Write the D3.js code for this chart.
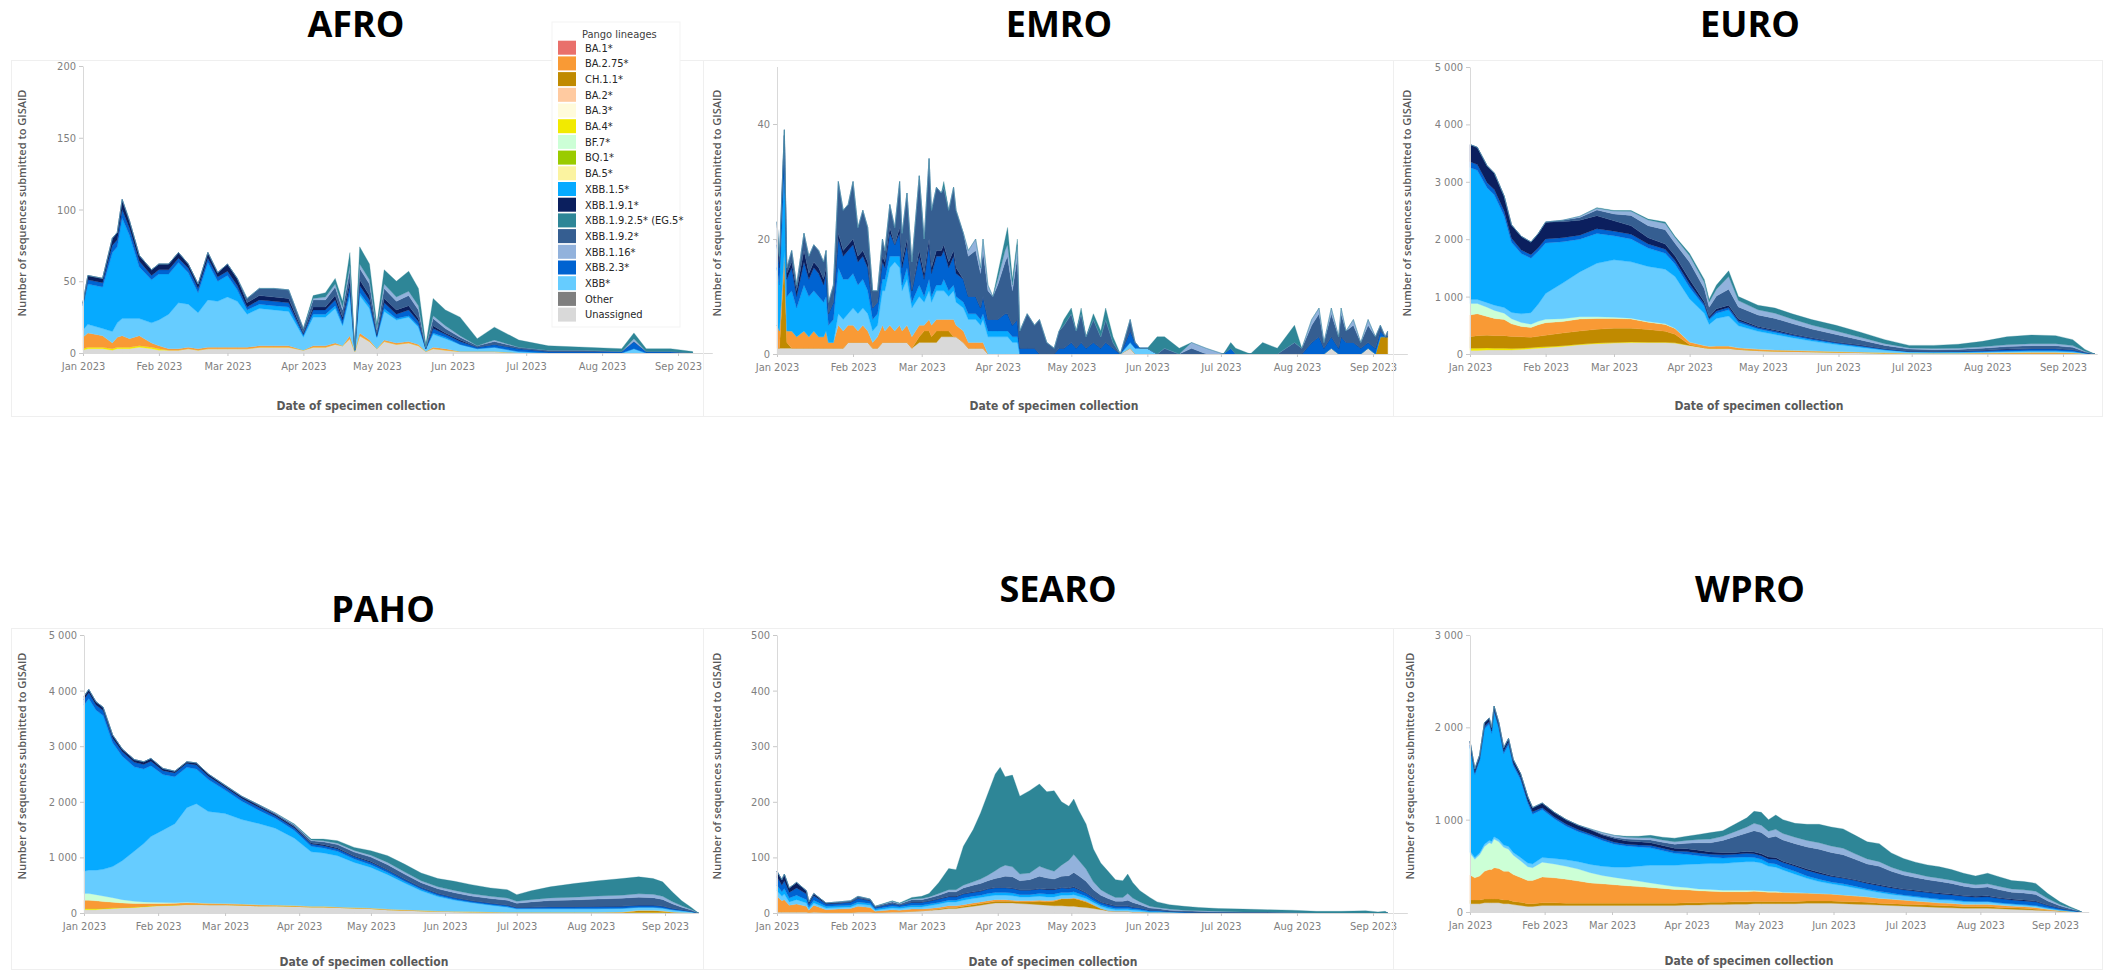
<!DOCTYPE html>
<html>
<head>
<meta charset="utf-8">
<script src="https://cdn.jsdelivr.net/npm/d3@7"></script>
<style>
  body { margin: 0; background: #fff; }
  .tick text { fill: #7f7f7f; font-family: "Liberation Sans Narrow", "DejaVu Sans Condensed", Roboto, sans-serif; font-size: 11px; }
  .tick line { stroke: #c8c8c8; }
  .domain { stroke: #d9d9d9; }
</style>
</head>
<body>
<svg id="chart" width="2103" height="970"></svg>
<script>
// lineages in legend order + their colours
const lineages = ["BA.1*", "BA.2.75*", "CH.1.1*", "BA.2*", "BA.3*", "BA.4*", "BF.7*", "BQ.1*", "BA.5*",
  "XBB.1.5*", "XBB.1.9.1*", "XBB.1.9.2.5*", "XBB.1.9.2*", "XBB.1.16*", "XBB.2.3*", "XBB*", "Other", "Unassigned"];
const lineageColors = ["#e9706b", "#f99a35", "#c08a00", "#ffcaa0", "#fffbdb", "#f2ea00", "#ccffd6", "#9acb00", "#fbf3a0",
  "#06aaff", "#0b1f5e", "#2e8697", "#355e91", "#92b2dc", "#0063d1", "#66ccff", "#7f7f7f", "#d9d9d9"];
const legendLabels = ["BA.1*", "BA.2.75*", "CH.1.1*", "BA.2*", "BA.3*", "BA.4*", "BF.7*", "BQ.1*", "BA.5*",
  "XBB.1.5*", "XBB.1.9.1*", "XBB.1.9.2.5* (EG.5*", "XBB.1.9.2*", "XBB.1.16*", "XBB.2.3*", "XBB*", "Other", "Unassigned"];
// bottom -> top
const stackOrder = ["Unassigned", "Other", "BA.5*", "BA.4*", "BA.1*", "BA.2*", "BA.3*", "BQ.1*", "CH.1.1*", "BA.2.75*", "BF.7*",
  "XBB*", "XBB.1.5*", "XBB.2.3*", "XBB.1.9.1*", "XBB.1.9.2*", "XBB.1.16*", "XBB.1.9.2.5*"];

const monthTicks = ["2023-01-01", "2023-02-01", "2023-03-01", "2023-04-01", "2023-05-01", "2023-06-01", "2023-07-01", "2023-08-01", "2023-09-01"];

// rows: [day of 2023 (0 = 1 Jan), values per column...]
const afroCols = ["Unassigned", "BA.2.75*", "BA.4*", "XBB*", "XBB.1.5*", "XBB.2.3*", "XBB.1.9.1*", "XBB.1.9.2*", "XBB.1.16*", "XBB.1.9.2.5*"];
const afroRows = [
  [0, 2,8,1,5,17,1,1,0,0,0], [2, 3,10,1,6,28,3,3,0,0,0], [8, 3,8,1,5,29,3,3,0,0,0], [12, 2,4,1,8,55,5,5,0,0,0],
  [14, 3,7,1,10,53,5,5,0,0,0], [16, 3,8,1,12,70,6,7,0,0,0], [19, 3,6,1,14,58,5,5,0,0,0], [23, 4,7,1,12,36,4,4,0,0,0],
  [28, 3,3,1,14,30,3,4,0,0,0], [31, 2,2,1,18,32,3,4,0,0,0], [35, 2,1,0,24,28,3,4,0,0,0], [39, 2,1,0,32,28,3,4,0,0,0],
  [43, 3,1,0,30,22,3,3,0,0,0], [47, 2,1,0,25,14,3,3,0,0,0], [51, 3,1,0,33,26,3,4,0,0,0], [55, 3,1,0,32,14,3,3,0,0,0],
  [59, 3,1,0,35,15,3,5,0,0,0], [63, 3,1,0,32,8,3,5,0,0,0], [67, 3,1,0,23,3,2,3,3,0,0], [72, 4,1,0,26,3,3,3,5,0,0],
  [78, 4,1,0,25,3,3,3,6,0,0], [84, 4,1,0,24,3,3,3,6,0,0], [90, 2,0,0,9,1,1,1,3,0,0], [94, 4,1,0,20,2,3,2,5,1,2],
  [99, 4,1,0,20,2,3,2,5,2,3], [103, 6,1,0,24,2,4,3,6,2,4], [106, 5,0,0,14,1,3,2,5,2,4], [109, 10,2,0,28,2,5,4,7,3,9],
  [111, 1,0,0,1,0,0,0,0,0,0], [113, 12,2,0,26,2,5,4,8,3,12], [117, 8,1,0,22,2,4,3,8,3,11], [120, 3,0,0,8,0,1,1,3,1,3],
  [123, 8,1,0,20,2,4,3,7,3,10], [128, 6,1,0,16,1,3,3,6,3,11], [133, 7,1,0,17,1,4,3,7,3,14], [137, 5,1,0,12,1,3,2,6,3,12],
  [140, 1,0,0,2,0,0,0,1,0,2], [143, 3,1,0,9,1,3,2,5,2,12], [148, 2,1,0,7,1,2,1,3,2,11], [154, 1,0,0,5,0,2,1,2,1,13],
  [161, 1,0,0,2,0,1,0,1,0,5], [168, 1,0,0,3,0,2,0,2,1,9], [178, 0,0,0,1,0,2,0,1,0,5], [190, 0,0,0,0,0,1,0,1,0,3],
  [205, 0,0,0,0,0,1,0,1,0,2], [220, 0,0,0,0,0,1,0,0,0,2], [225, 0,0,0,3,0,5,0,0,2,4], [230, 0,0,0,0,0,1,0,0,0,2],
  [240, 0,0,0,0,0,1,0,0,0,2], [249, 0,0,0,0,0,0,0,0,0,1]
];

const emroCols = ["Unassigned", "BA.2.75*", "CH.1.1*", "XBB*", "XBB.1.5*", "XBB.2.3*", "XBB.1.9.1*", "XBB.1.9.2*", "XBB.1.16*", "XBB.1.9.2.5*"];
const emroRows = [
  [0, 1,4,0,0,10,4,1,3,0,0], [1, 1,3,0,0,8,3,1,1,0,0], [3, 1,2,15,0,14,6,0,1,0,0], [4, 1,2,1,0,6,3,1,1,0,0],
  [6, 1,3,0,0,7,4,1,2,0,0], [8, 1,2,0,0,5,2,1,1,0,0], [11, 1,3,0,0,8,4,2,3,0,0], [13, 1,2,0,0,7,3,1,3,0,0],
  [15, 1,3,0,0,7,4,1,3,0,0], [17, 1,2,0,0,7,4,1,3,0,0], [19, 1,2,0,0,6,3,1,3,0,0], [20, 1,3,0,0,6,4,1,3,0,0],
  [21, 1,1,0,0,3,2,0,2,0,0], [23, 1,1,0,0,4,3,0,3,0,0], [25, 1,4,0,2,8,5,1,9,0,0], [27, 1,3,0,2,7,4,1,7,0,0],
  [29, 2,3,0,2,6,5,1,7,0,0], [31, 2,3,0,3,6,5,1,10,0,0], [33, 2,2,0,3,5,4,1,5,0,0], [35, 2,3,0,3,5,4,1,7,0,0],
  [37, 2,2,0,3,4,4,1,6,0,0], [39, 1,1,0,2,2,2,0,3,0,0], [41, 1,2,0,2,2,2,0,2,0,0], [43, 2,3,0,6,2,3,1,3,0,0],
  [44, 2,2,0,7,2,2,1,2,0,0], [46, 2,3,0,10,2,4,1,4,0,0], [48, 2,2,0,12,1,2,0,3,0,0], [50, 2,3,0,10,2,4,1,8,0,0],
  [51, 2,2,0,7,1,3,1,5,0,0], [53, 2,3,0,8,2,4,1,8,0,0], [55, 1,2,0,5,1,2,0,5,0,0], [58, 2,2,1,5,2,5,1,13,0,0],
  [60, 2,1,2,4,1,3,1,6,0,0], [62, 2,2,2,5,2,6,1,14,0,0], [63, 2,2,1,4,1,4,1,10,0,0], [65, 2,2,2,5,1,5,1,11,0,0],
  [67, 3,2,1,5,1,5,1,10,0,0], [68, 3,2,1,5,2,5,1,10,0,1], [70, 3,2,1,4,1,4,1,9,0,0], [72, 3,3,0,5,1,5,1,11,0,0],
  [73, 3,2,0,4,1,4,1,10,0,0], [76, 2,2,0,4,1,4,0,8,0,0], [78, 1,1,0,4,1,3,0,7,1,0], [81, 1,1,0,4,1,3,0,8,2,0],
  [83, 1,1,0,3,1,2,0,6,1,0], [84, 1,1,0,4,1,3,0,8,2,0], [86, 0,0,0,3,1,2,0,5,1,0], [88, 0,0,0,3,1,2,0,4,0,0],
  [90, 0,0,0,3,1,2,0,6,1,1], [93, 0,0,0,3,1,3,0,9,2,2], [94, 0,0,0,3,1,3,0,10,2,3], [96, 0,0,0,2,1,2,0,6,1,1],
  [98, 0,0,0,2,1,3,0,11,2,1], [99, 0,0,0,0,0,1,0,3,0,0], [102, 0,0,0,0,0,1,0,6,0,0], [105, 0,0,0,0,0,1,0,4,0,0],
  [107, 0,0,0,0,0,0,0,6,0,0], [110, 0,0,0,0,0,0,0,2,0,0], [113, 0,0,0,0,0,0,0,1,0,0], [115, 0,0,0,0,0,1,0,3,0,0],
  [117, 0,0,0,0,0,1,0,4,0,1], [120, 0,0,0,0,0,2,0,5,0,1], [122, 0,0,0,0,0,1,0,3,0,0], [124, 0,0,0,0,0,2,0,5,0,1],
  [126, 0,0,0,0,0,1,0,2,0,0], [129, 0,0,0,0,0,2,0,4,0,1], [132, 0,0,0,0,0,1,0,2,0,1], [134, 0,0,0,0,0,2,0,4,0,2],
  [137, 0,0,0,0,0,1,0,1,0,1], [140, 0,0,0,0,0,0,0,0,0,0], [144, 1,0,0,1,0,2,0,2,0,0], [146, 0,0,0,1,0,1,0,0,0,0],
  [148, 0,0,0,1,0,0,0,0,0,0], [151, 0,0,0,1,0,0,0,0,0,0], [155, 0,0,0,0,0,0,0,0,0,3], [158, 0,0,0,0,0,0,0,1,0,2],
  [164, 0,0,0,0,0,0,0,0,0,1], [169, 0,0,0,0,0,0,0,1,1,0], [175, 0,0,0,0,0,0,0,0,1,0], [182, 0,0,0,0,0,0,0,0,0,0],
  [185, 0,0,0,0,0,1,0,0,0,1], [187, 0,0,0,0,0,0,0,0,0,1], [193, 0,0,0,0,0,0,0,0,0,0], [198, 0,0,0,0,0,0,0,0,0,2],
  [204, 0,0,0,0,0,0,0,0,0,1], [211, 0,0,0,0,0,0,0,2,0,3], [214, 0,0,0,0,0,0,0,1,0,0], [218, 0,0,0,0,0,2,0,3,1,0],
  [221, 0,0,0,0,0,3,0,4,1,0], [223, 0,0,0,0,0,1,0,1,0,0], [226, 1,0,0,0,0,2,0,4,1,0], [229, 0,0,0,0,0,1,0,2,0,0],
  [230, 0,0,0,0,0,3,0,4,1,0], [232, 0,0,0,0,0,2,0,2,0,0], [235, 0,0,0,0,0,2,0,3,1,0], [238, 0,0,0,0,0,1,0,1,0,0],
  [241, 1,0,0,0,0,1,0,3,1,0], [244, 0,0,0,0,0,1,0,2,0,0], [246, 0,0,3,0,0,1,0,1,0,0], [248, 0,0,3,0,0,0,0,0,0,0],
  [249, 0,0,3,0,0,0,0,1,0,0]
];

const euroCols = ["Unassigned", "BA.4*", "CH.1.1*", "BA.2.75*", "BF.7*", "XBB*", "XBB.1.5*", "XBB.2.3*", "XBB.1.9.1*", "XBB.1.9.2*", "XBB.1.16*", "XBB.1.9.2.5*"];
const euroRows = [
  [0, 60,40,200,380,200,70,2300,100,300,0,0,0], [3, 60,40,220,380,180,70,2250,100,300,0,0,0],
  [7, 70,35,220,330,160,80,2000,90,295,0,0,0], [10, 70,30,220,300,140,90,1920,90,290,0,0,0],
  [14, 70,30,220,280,110,100,1600,80,260,0,0,0], [17, 70,25,210,220,90,110,1220,70,235,0,0,0],
  [21, 80,20,200,180,70,150,1050,60,240,0,0,0], [25, 90,20,180,170,60,200,950,60,220,0,0,0],
  [28, 100,20,190,200,60,300,920,60,250,0,0,0], [31, 110,15,200,220,60,450,880,70,290,5,0,0],
  [38, 130,15,220,200,50,620,720,70,280,25,0,0], [45, 160,10,230,210,40,780,570,70,260,50,20,0],
  [52, 180,10,240,190,30,930,520,80,230,100,30,10], [59, 190,10,250,170,20,1000,420,80,180,120,50,10],
  [66, 200,10,240,160,15,980,400,80,150,180,70,15], [73, 200,5,220,130,10,960,320,70,110,210,100,15],
  [80, 200,5,190,120,10,950,280,70,90,250,110,25], [84, 190,5,150,100,5,900,220,60,80,220,100,20],
  [90, 150,0,10,50,0,750,200,60,80,300,110,40], [96, 110,0,0,40,0,560,120,40,40,230,110,50],
  [98, 100,0,0,35,0,380,80,30,30,160,90,45], [101, 100,0,0,40,0,480,90,40,40,220,120,70],
  [106, 100,0,0,40,0,520,110,40,40,280,220,100], [110, 80,0,0,30,0,380,60,30,30,210,110,70],
  [118, 60,0,0,25,0,310,40,25,20,200,90,80], [125, 50,0,0,20,0,270,35,25,20,200,90,90],
  [132, 45,0,0,20,0,220,30,20,15,180,80,90], [140, 40,0,0,15,0,170,25,20,15,150,70,95],
  [150, 30,0,0,15,0,120,20,15,10,130,60,100], [160, 25,0,0,10,0,80,15,15,10,90,45,90],
  [170, 15,0,0,10,0,40,10,10,5,60,30,70], [180, 10,0,0,5,0,20,5,5,5,35,20,45],
  [190, 10,0,0,5,0,15,5,5,5,30,20,55], [200, 10,0,0,5,0,15,5,10,5,30,20,70],
  [210, 10,0,0,10,0,15,5,15,10,35,25,95], [220, 10,0,0,15,0,20,5,25,10,45,30,140],
  [230, 10,0,0,20,0,20,5,30,10,50,35,150], [240, 10,0,0,20,0,20,5,30,10,50,35,140],
  [247, 8,0,0,15,0,15,5,25,8,40,30,104], [252, 3,0,0,5,0,5,2,8,3,12,10,32],
  [256, 0,0,0,0,0,0,0,0,0,0,0,0]
];

const pahoCols = ["Unassigned", "BA.4*", "CH.1.1*", "BA.2.75*", "BF.7*", "XBB*", "XBB.1.5*", "XBB.2.3*", "XBB.1.9.1*", "XBB.1.9.2*", "XBB.1.16*", "XBB.1.9.2.5*"];
const pahoRows = [
  [0, 60,20,0,150,120,400,2990,100,60,0,0,0], [2, 60,20,0,150,120,420,3090,100,60,0,0,0],
  [5, 60,20,0,140,110,440,2880,90,60,0,0,0], [8, 70,15,0,120,100,480,2765,90,60,0,0,0],
  [12, 80,15,0,100,80,560,2225,80,60,0,0,0], [16, 90,10,0,80,60,700,1880,80,50,0,0,0],
  [21, 100,10,0,60,40,900,1520,80,50,0,0,0], [25, 110,10,0,50,30,1050,1340,80,50,0,0,0],
  [28, 120,10,0,40,25,1180,1275,80,50,0,0,0], [33, 130,10,0,30,20,1300,1000,70,40,0,0,0],
  [38, 140,5,0,30,10,1420,845,70,30,0,0,0], [43, 150,5,0,30,10,1700,725,70,30,0,0,0],
  [47, 150,5,0,25,5,1780,625,70,40,0,0,0], [52, 150,0,0,25,0,1650,575,60,40,0,0,0],
  [59, 150,0,0,20,0,1620,420,50,30,10,0,0], [66, 140,0,0,20,0,1520,330,50,30,10,0,0],
  [73, 130,0,0,20,0,1460,240,50,30,20,0,0], [80, 130,0,0,15,0,1380,180,40,25,20,10,0],
  [88, 120,0,0,15,0,1210,140,40,25,30,10,10], [95, 110,0,0,10,0,980,100,40,20,40,15,15],
  [100, 110,0,0,10,0,960,90,40,20,50,20,30], [106, 100,0,0,10,0,920,80,40,20,60,25,45],
  [113, 90,0,0,10,0,810,60,40,15,70,30,55], [120, 80,0,0,10,0,730,50,40,15,80,35,80],
  [127, 60,0,0,10,0,620,40,40,10,90,40,120], [134, 50,0,0,10,0,480,30,35,10,85,40,140],
  [141, 40,0,0,10,0,350,25,30,10,80,35,140], [148, 30,0,0,5,0,260,20,30,10,80,35,150],
  [155, 25,0,0,5,0,200,15,30,5,85,40,165], [162, 20,0,0,5,0,160,10,25,5,80,40,165],
  [170, 15,0,0,5,0,120,10,25,5,80,40,150], [177, 10,0,0,5,0,90,10,25,5,85,40,150],
  [181, 10,0,0,5,0,60,5,20,5,70,35,120], [187, 10,0,0,5,0,60,5,25,5,90,40,160],
  [195, 10,0,0,5,0,60,5,30,5,110,45,200], [205, 10,0,0,5,0,60,5,30,5,120,50,245],
  [215, 10,0,0,5,0,60,5,35,5,130,55,275], [225, 10,0,0,10,0,60,5,35,5,140,55,300],
  [232, 10,0,30,10,0,50,5,35,5,140,60,305], [238, 10,0,30,10,0,50,5,35,5,130,60,285],
  [242, 10,0,20,10,0,45,5,30,5,120,55,260], [246, 5,0,10,5,0,35,5,20,5,80,40,175],
  [250, 5,0,0,5,0,25,5,15,5,45,25,90], [254, 2,0,0,2,0,15,3,8,2,20,10,38],
  [257, 0,0,0,0,0,0,0,0,0,0,0,0]
];

const searoCols = ["Unassigned", "BA.2.75*", "CH.1.1*", "XBB*", "XBB.1.5*", "XBB.2.3*", "XBB.1.9.1*", "XBB.1.9.2*", "XBB.1.16*", "XBB.1.9.2.5*"];
const searoRows = [
  [0, 2,28,0,10,10,15,10,0,0,0], [2, 2,20,0,8,8,12,10,0,0,0], [3, 2,22,0,10,10,14,12,0,0,0], [5, 2,12,0,6,7,10,8,0,0,0],
  [8, 2,14,0,8,8,13,10,0,0,0], [12, 2,10,0,6,6,10,6,0,0,0], [13, 1,4,0,3,3,5,4,0,0,0], [15, 2,12,0,4,5,8,4,0,0,0],
  [20, 1,5,0,3,3,4,2,0,0,0], [25, 1,6,0,3,3,4,1,2,0,0], [30, 1,7,0,3,3,5,1,2,0,0], [33, 2,10,0,4,4,6,1,3,0,0],
  [38, 2,8,0,4,3,5,1,2,0,0], [40, 1,2,0,2,2,3,0,2,0,0], [47, 2,4,0,3,3,4,1,3,1,1], [50, 2,3,0,3,3,3,0,2,1,1],
  [55, 3,4,0,4,3,5,1,4,1,3], [59, 4,3,0,4,3,5,1,4,2,4], [62, 5,3,0,5,3,5,1,5,2,6], [66, 6,3,1,6,3,6,1,6,3,20],
  [70, 8,3,2,7,3,6,1,8,4,38], [73, 8,3,2,7,3,6,1,8,4,36], [76, 10,3,2,8,4,7,1,10,5,70], [80, 12,3,3,8,4,7,1,12,6,94],
  [83, 14,3,3,8,4,7,1,13,8,119], [86, 16,3,3,8,5,8,1,14,10,147], [89, 18,3,3,8,5,8,1,16,14,174], [91, 18,3,3,8,5,8,1,18,18,180],
  [93, 18,3,3,8,5,8,1,20,20,159], [96, 18,2,3,8,5,8,1,20,18,165], [99, 17,2,3,7,4,8,1,16,12,140], [103, 16,2,4,7,4,8,1,18,12,148],
  [107, 15,2,6,7,5,8,1,22,18,148], [110, 14,2,6,7,5,8,1,20,16,139], [113, 13,2,8,6,5,8,1,18,14,145], [116, 13,1,12,6,5,8,1,20,20,114],
  [119, 12,1,13,6,5,7,1,22,28,97], [121, 12,1,14,6,5,8,1,26,32,100], [123, 11,1,13,5,5,7,1,24,28,90], [126, 10,1,10,5,4,6,1,20,22,81],
  [129, 8,1,6,4,3,5,1,14,14,59], [132, 6,0,2,4,3,4,1,12,10,48], [135, 4,0,0,4,3,4,1,10,8,41], [138, 3,0,0,3,2,4,1,8,7,32],
  [141, 3,0,0,3,2,4,1,8,7,30], [143, 3,0,0,3,2,4,1,10,12,35], [145, 2,0,0,3,2,3,1,8,8,28], [148, 2,0,0,2,2,3,0,6,5,20],
  [152, 1,0,0,1,1,2,0,4,3,16], [155, 1,0,0,1,1,2,0,3,2,10], [160, 1,0,0,1,0,1,0,2,2,8], [166, 0,0,0,1,0,1,0,2,1,7],
  [172, 0,0,0,0,0,1,0,2,1,6], [180, 0,0,0,0,0,1,0,1,1,5], [190, 0,0,0,0,0,1,0,1,0,5], [200, 0,0,0,0,0,1,0,1,0,4],
  [210, 0,0,0,0,0,0,0,1,0,4], [220, 0,0,0,0,0,0,0,0,0,3], [230, 0,0,0,0,0,0,0,0,0,3], [240, 0,0,0,0,0,0,0,0,0,4],
  [245, 0,0,0,0,0,0,0,0,0,2], [248, 0,0,0,0,0,0,0,0,0,3], [249, 0,0,0,0,0,0,0,0,0,0]
];

const wproCols = ["Unassigned", "CH.1.1*", "BA.2.75*", "BF.7*", "XBB*", "XBB.1.5*", "XBB.2.3*", "XBB.1.9.1*", "XBB.1.9.2*", "XBB.1.16*", "XBB.1.9.2.5*"];
const wproRows = [
  [0, 90,40,270,240,20,1130,20,40,0,0,0], [2, 90,40,240,200,20,900,20,40,0,0,0], [4, 90,40,260,230,20,1000,20,40,0,0,0],
  [6, 100,40,300,270,25,1250,25,40,0,0,0], [8, 100,40,320,290,25,1260,25,40,0,0,0], [9, 100,40,320,280,25,1170,25,40,0,0,0],
  [10, 100,40,340,310,25,1350,25,40,0,0,0], [12, 100,40,330,290,25,1200,25,40,0,0,0], [14, 90,40,310,260,25,990,25,40,0,0,0],
  [16, 90,40,310,240,30,1105,25,40,0,0,0], [18, 80,35,290,210,30,940,25,40,0,0,0], [21, 70,35,270,180,35,845,25,40,0,0,0],
  [24, 60,30,250,150,40,650,25,45,0,0,0], [26, 60,30,250,140,40,540,25,45,0,0,0], [30, 70,30,280,160,50,520,20,50,0,0,0],
  [35, 70,30,270,150,60,430,20,50,0,0,0], [40, 70,25,260,140,70,365,20,50,0,0,0], [45, 70,25,240,130,80,325,20,50,0,0,0],
  [50, 70,25,220,110,90,310,20,45,5,5,0], [55, 70,25,210,90,100,280,20,40,10,15,0], [60, 70,25,200,80,110,250,20,40,15,20,0],
  [65, 70,25,190,70,130,230,20,35,20,20,10], [70, 70,25,180,60,160,210,20,35,25,20,15], [75, 70,25,170,50,190,190,25,30,30,25,25],
  [80, 70,25,160,40,210,160,25,30,35,25,30], [85, 70,25,150,30,230,130,25,30,45,25,40], [90, 75,25,140,25,250,110,30,30,60,30,45],
  [95, 75,25,130,20,270,90,30,30,80,35,55], [100, 80,25,120,20,280,70,30,25,100,40,70], [105, 80,25,115,15,290,60,35,25,130,45,60],
  [110, 85,25,110,15,300,55,35,20,170,55,80], [115, 85,25,110,15,310,50,40,20,200,65,100], [118, 90,25,110,10,310,45,40,20,230,80,130],
  [121, 90,25,105,10,300,40,40,20,230,80,140], [124, 90,25,100,10,270,35,45,20,210,70,125], [127, 90,25,100,10,260,35,50,20,230,75,155],
  [130, 90,25,95,5,240,30,50,15,230,70,150], [135, 90,25,90,5,200,30,55,15,230,70,150], [140, 95,25,85,0,160,25,60,15,240,70,175],
  [145, 95,25,80,0,130,25,60,15,250,70,200], [150, 95,25,75,0,110,20,60,10,250,70,205], [155, 90,25,70,0,100,20,60,10,245,70,210],
  [160, 85,25,65,0,85,20,60,10,220,60,200], [165, 80,25,60,0,70,15,60,10,200,55,185], [170, 75,20,55,0,60,15,60,10,200,50,195],
  [175, 70,20,50,0,50,15,55,10,170,45,155], [180, 65,20,45,0,45,10,55,10,150,40,140], [185, 60,20,40,0,40,10,55,10,140,40,125],
  [190, 55,20,35,0,35,10,55,10,130,35,125], [195, 50,20,30,0,30,10,55,10,125,35,125], [200, 45,20,30,0,30,10,50,10,115,35,115],
  [205, 40,20,25,0,25,10,50,10,100,35,105], [210, 40,20,25,0,25,5,45,10,90,35,95], [215, 40,20,25,0,25,5,50,10,95,35,115],
  [220, 35,15,25,0,20,5,45,10,85,35,105], [225, 30,15,20,0,20,5,40,10,75,35,90], [230, 25,15,20,0,15,5,40,10,75,35,90],
  [235, 20,10,20,0,15,5,40,10,70,35,85], [240, 15,5,10,0,10,5,25,5,45,25,55], [245, 8,3,5,0,5,3,15,3,25,15,28],
  [249, 5,0,3,0,3,2,10,2,12,8,15], [253, 1,0,1,0,1,1,3,0,3,2,3], [254, 0,0,0,0,0,0,0,0,0,0,0]
];

const spaceFmt = d3.formatLocale({decimal: ".", thousands: " ", grouping: [3], currency: ["", ""]}).format(",");

const panels = [
  {name: "AFRO", cols: afroCols, rows: afroRows, yMax: 200, yTicks: [0, 50, 100, 150, 200], fmt: d3.format("d"),
   box: [11, 60, 692, 356], xJan: 83, xSep: 678, y0: 353, yTop: 66, title: [356, 37], yTitle: [22, 203], xTitle: [361, 410]},
  {name: "EMRO", cols: emroCols, rows: emroRows, yMax: 50, yTicks: [0, 20, 40], fmt: d3.format("d"),
   box: [703, 60, 690, 356], xJan: 777, xSep: 1373, y0: 354, yTop: 66.5, title: [1059, 37], yTitle: [717, 203], xTitle: [1054, 410]},
  {name: "EURO", cols: euroCols, rows: euroRows, yMax: 5000, yTicks: [0, 1000, 2000, 3000, 4000, 5000], fmt: spaceFmt,
   box: [1393, 60, 709, 356], xJan: 1470, xSep: 2063, y0: 354, yTop: 67, title: [1750, 37], yTitle: [1407, 203], xTitle: [1759, 410]},
  {name: "PAHO", cols: pahoCols, rows: pahoRows, yMax: 5000, yTicks: [0, 1000, 2000, 3000, 4000, 5000], fmt: spaceFmt,
   box: [11, 628, 692, 341], xJan: 84, xSep: 665, y0: 913, yTop: 635, title: [383, 622], yTitle: [22, 766], xTitle: [364, 966]},
  {name: "SEARO", cols: searoCols, rows: searoRows, yMax: 500, yTicks: [0, 100, 200, 300, 400, 500], fmt: d3.format("d"),
   box: [703, 628, 690, 341], xJan: 777, xSep: 1373, y0: 913, yTop: 635, title: [1058, 602], yTitle: [717, 766], xTitle: [1053, 966]},
  {name: "WPRO", cols: wproCols, rows: wproRows, yMax: 3000, yTicks: [0, 1000, 2000, 3000], fmt: spaceFmt,
   box: [1393, 628, 709, 341], xJan: 1470, xSep: 2055, y0: 912, yTop: 635, title: [1750, 602], yTitle: [1410, 766], xTitle: [1749, 965]}
];

const svg = d3.select("#chart");
const start = new Date(2023, 0, 1);
const sep1 = new Date(2023, 8, 1);
const end = new Date(2023, 8, 15);
const color = d3.scaleOrdinal().domain(lineages).range(lineageColors);

function buildData(cols, rows) {
  return rows.map(r => {
    const o = {date: d3.timeDay.offset(start, r[0])};
    stackOrder.forEach(k => o[k] = 0);
    cols.forEach((c, i) => o[c] = r[i + 1]);
    return o;
  });
}

panels.forEach(p => {
  // light frame round each panel
  svg.append("rect")
    .attr("x", p.box[0] + 0.5).attr("y", p.box[1] + 0.5)
    .attr("width", p.box[2]).attr("height", p.box[3])
    .attr("fill", "none").attr("stroke", "#efefef");

  const pxDay = (p.xSep - p.xJan) / d3.timeDay.count(start, sep1);
  const x = d3.scaleTime()
    .domain([start, end])
    .range([p.xJan, p.xJan + pxDay * d3.timeDay.count(start, end)]);
  const y = d3.scaleLinear().domain([0, p.yMax]).range([p.y0, p.yTop]);

  const data = buildData(p.cols, p.rows);
  const series = d3.stack().keys(stackOrder)(data);

  const area = d3.area()
    .x(d => x(d.data.date))
    .y0(d => y(d[0]))
    .y1(d => y(d[1]));

  svg.append("g")
    .selectAll("path")
    .data(series.filter(s => d3.max(s, d => d[1] - d[0]) > 0))
    .join("path")
    .attr("fill", s => color(s.key))
    .attr("stroke", s => color(s.key))
    .attr("stroke-width", 0.3)
    .attr("d", area);

  // axes
  svg.append("g")
    .attr("transform", `translate(0,${p.y0})`)
    .call(d3.axisBottom(x)
      .tickValues(monthTicks.map(d => d3.timeParse("%Y-%m-%d")(d)))
      .tickFormat(d3.timeFormat("%b %Y"))
      .tickSize(3).tickSizeOuter(0).tickPadding(6));

  svg.append("g")
    .attr("transform", `translate(${p.xJan},0)`)
    .call(d3.axisLeft(y)
      .tickValues(p.yTicks)
      .tickFormat(p.fmt)
      .tickSize(4).tickSizeOuter(0).tickPadding(3));

  // titles
  svg.append("text")
    .attr("x", p.title[0]).attr("y", p.title[1])
    .attr("text-anchor", "middle")
    .style("font-family", "'Open Sans', sans-serif")
    .style("font-weight", "bold")
    .style("font-size", "36px")
    .attr("fill", "#000")
    .text(p.name);

  svg.append("text")
    .attr("transform", `translate(${p.yTitle[0]},${p.yTitle[1]}) rotate(-90)`)
    .attr("text-anchor", "middle")
    .attr("dy", "0.35em")
    .style("font-family", "'Open Sans', sans-serif")
    .style("font-weight", "600")
    .style("font-size", "11px")
    .attr("fill", "#595959")
    .text("Number of sequences submitted to GISAID");

  svg.append("text")
    .attr("x", p.xTitle[0]).attr("y", p.xTitle[1])
    .attr("text-anchor", "middle")
    .style("font-family", "'Liberation Sans Narrow', 'DejaVu Sans Condensed', Roboto, sans-serif")
    .style("font-weight", "bold")
    .style("font-size", "12px")
    .attr("fill", "#595959")
    .text("Date of specimen collection");
});

// legend sits over the AFRO panel
const legend = svg.append("g").attr("transform", "translate(552,22)");
legend.append("rect")
  .attr("width", 128).attr("height", 305)
  .attr("fill", "#fff").attr("stroke", "#f3f3f3");
legend.append("text")
  .attr("x", 30).attr("y", 16)
  .style("font-family", "'Liberation Sans Narrow', 'DejaVu Sans Condensed', Roboto, sans-serif")
  .style("font-size", "11px")
  .attr("fill", "#404040")
  .text("Pango lineages");
const items = legend.selectAll("g.item")
  .data(lineages)
  .join("g")
  .attr("class", "item")
  .attr("transform", (d, i) => `translate(6,${18.7 + i * 15.7})`);
items.append("rect")
  .attr("width", 18).attr("height", 14)
  .attr("fill", d => color(d));
items.append("text")
  .attr("x", 27).attr("y", 7).attr("dy", "0.35em")
  .style("font-family", "'Liberation Sans Narrow', 'DejaVu Sans Condensed', Roboto, sans-serif")
  .style("font-size", "11px")
  .attr("fill", "#262626")
  .text((d, i) => legendLabels[i]);
</script>
</body>
</html>
